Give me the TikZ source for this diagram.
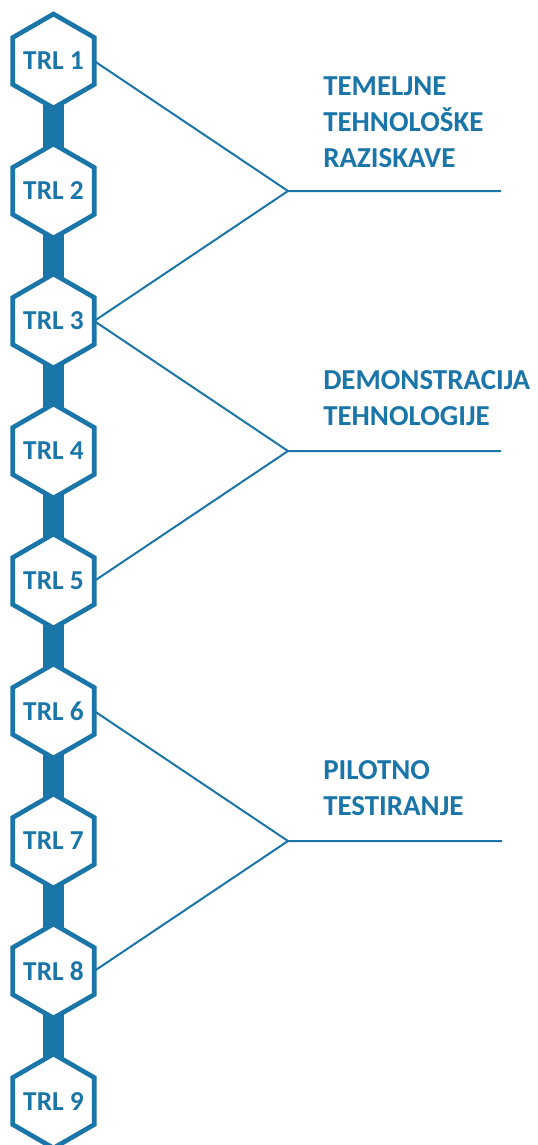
\documentclass[tikz,border=0pt]{standalone}
\usepackage{fontspec}
\setmainfont{Carlito}
\usetikzlibrary{shapes.geometric,positioning,backgrounds}
\definecolor{trlblue}{RGB}{26,117,168}

\tikzset{
  trltext/.style={inner sep=0pt, text=trlblue,
    font=\fontsize{20.5pt}{24pt}\selectfont\bfseries},
  trlhex/.style={regular polygon, regular polygon sides=6, shape border rotate=30,
    draw=trlblue, fill=white, line width=3.5pt, minimum size=70.5pt,
    inner sep=0pt, outer sep=0pt, label={[trltext]center:#1}},
  phase/.style={anchor=north west, inner sep=0pt, align=left, text=trlblue,
    font=\fontsize{21.7pt}{27pt}\selectfont\bfseries},
  spine/.style={draw=trlblue, line width=15.75pt},
  branch/.style={draw=trlblue, line width=1.5pt}
}

\begin{document}
\begin{tikzpicture}[x=0.75pt,y=-0.75pt,node distance=27pt]
  \useasboundingbox (0,0) rectangle (537,1145);
  % The nine readiness levels, stacked top to bottom
  \node[trlhex=TRL 1] (trl1) at (53.5,61) {};
  \node[trlhex=TRL 2] (trl2) [below = of trl1] {};
  \node[trlhex=TRL 3] (trl3) [below = of trl2] {};
  \node[trlhex=TRL 4] (trl4) [below = of trl3] {};
  \node[trlhex=TRL 5] (trl5) [below = of trl4] {};
  \node[trlhex=TRL 6] (trl6) [below = of trl5] {};
  \node[trlhex=TRL 7] (trl7) [below = of trl6] {};
  \node[trlhex=TRL 8] (trl8) [below = of trl7] {};
  \node[trlhex=TRL 9] (trl9) [below = of trl8] {};
  % Thick bar behind the hexagons
  \begin{scope}[on background layer]
    \path[spine] (trl1.center) -- (trl9.center);
  \end{scope}
  % Phase labels
  \node[phase] (phase1) at (323,76) {TEMELJNE\\TEHNOLOŠKE\\RAZISKAVE};
  \node[phase] (phase2) at (323,370) {DEMONSTRACIJA\\TEHNOLOGIJE};
  \node[phase] (phase3) at (323,760) {PILOTNO\\TESTIRANJE};
  % Junctions and line ends
  \coordinate (j1) at (288,191);
  \coordinate (e1) at (501,191);
  \coordinate (j2) at (288,451);
  \coordinate (e2) at (501,451);
  \coordinate (j3) at (288,841);
  \coordinate (e3) at (502,841);
  % Brackets from the levels to each phase
  \path[branch] (trl1.east) -- (j1) -- (e1);
  \path[branch] (trl3.east) -- (j1);
  \path[branch] (trl3.east) -- (j2) -- (e2);
  \path[branch] (trl5.east) -- (j2);
  \path[branch] (trl6.east) -- (j3) -- (e3);
  \path[branch] (trl8.east) -- (j3);
\end{tikzpicture}
\end{document}
